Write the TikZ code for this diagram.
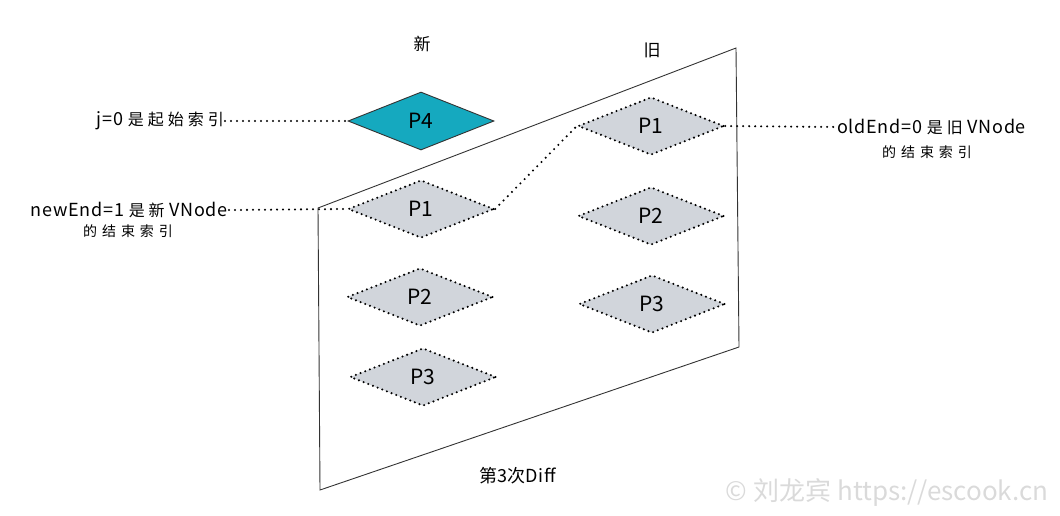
\documentclass[tikz,border=0pt]{standalone}
\usepackage{fontspec}
\setmainfont{Noto Sans CJK SC}
\newfontfamily\cjkw[LetterSpace=25]{Noto Sans CJK SC}
\newfontfamily\cjks[LetterSpace=35]{Noto Sans CJK SC}
\newfontfamily\latw[LetterSpace=4]{Noto Sans CJK SC}
\usetikzlibrary{shapes.geometric}
\definecolor{teal4}{HTML}{15A9BF}
\definecolor{grayfill}{HTML}{D1D5DB}
\definecolor{wm}{HTML}{DADADA}
\tikzset{
  dia/.style={diamond, aspect=2.5, minimum width=146pt, minimum height=58pt, inner sep=0pt, font=\fontsize{21}{23}\selectfont},
  olddia/.style={dia, fill=grayfill, draw=black, line width=2.3pt, dash pattern=on 0pt off 5pt, line cap=round},
  hotdia/.style={dia, fill=teal4, draw=black!80, line width=0.9pt},
  dotline/.style={draw=black, line width=2.3pt, dash pattern=on 0pt off 6pt, line cap=round},
  lbl/.style={font=\fontsize{18}{20}\selectfont, inner sep=1pt},
  small/.style={font=\fontsize{14}{16}\selectfont, inner sep=1pt},
}
\begin{document}
\begin{tikzpicture}[x=1pt,y=-1pt]
\useasboundingbox (0,0) rectangle (1060,515);
% frame
\draw[black!80, line width=0.9pt] (318,208) -- (736,48) -- (739,347) -- (320,490) -- cycle;
% diamonds
\node[hotdia] (p4) at (421,121) {P4};
\node[olddia] (n1) at (421,209) {P1};
\node[olddia] (n2) at (420,297) {P2};
\node[olddia] (n3) at (423,377) {P3};
\node[olddia] (o1) at (651,126) {P1};
\node[olddia] (o2) at (651,216) {P2};
\node[olddia] (o3) at (652,304) {P3};
% titles
\node[font=\fontsize{17}{19}\selectfont, inner sep=1pt] (tnew) at (422,44) {新};
\node[font=\fontsize{17}{19}\selectfont, inner sep=1pt] (told) at (652,50) {旧};
\node[font=\fontsize{18}{20}\selectfont, inner sep=1pt] (tdiff) at (518,476) {\cjkw 第{\latw 3}次{\latw Diff}};
% labels
\node[lbl, anchor=east] (jlbl) at (225,121) {\latw j=0 {\fontsize{16}{18}\selectfont\cjkw 是起始索引}};
\node[lbl, anchor=east] (newlbl) at (229,210) {\latw newEnd=1 {\fontsize{16}{18}\selectfont\cjkw 是新}\ VNode};
\node[small] (newlbl2) at (128,231) {\cjks 的结束索引};
\node[lbl, anchor=west] (oldlbl) at (836,127) {\latw oldEnd=0 {\fontsize{16}{18}\selectfont\cjkw 是旧}\ VNode};
\node[small] (oldlbl2) at (927,152) {\cjks 的结束索引};
% connectors
\draw[dotline] (jlbl.east) -- (p4.west);
\draw[dotline] (newlbl.east) -- (n1.west);
\draw[dotline] (o1.east) -- (oldlbl.west);
\draw[dotline] (n1.east) -- (o1.west);
% watermark
\node[font=\fontsize{26}{28}\selectfont, text=wm, anchor=east] (wmk) at (1052,492) {© 刘龙宾 https://escook.cn};
\end{tikzpicture}
\end{document}
